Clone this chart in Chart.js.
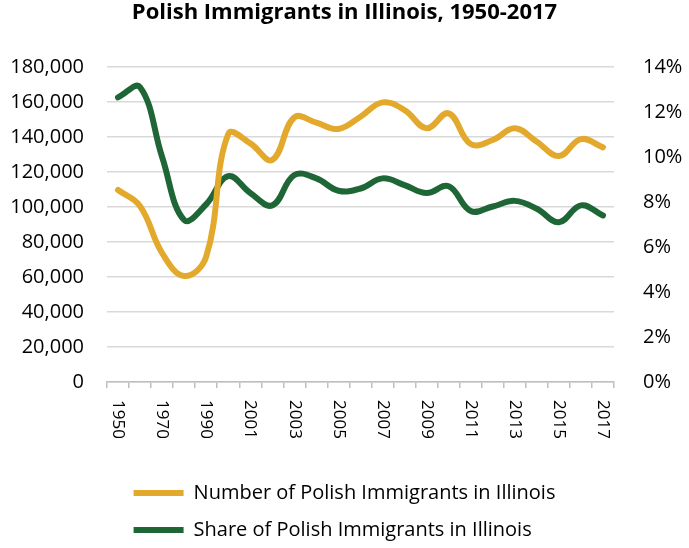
<!DOCTYPE html>
<html>
<head>
<meta charset="utf-8">
<script src="https://cdn.jsdelivr.net/npm/chart.js@4.4.0/dist/chart.umd.min.js"></script>
<style>
  html, body { margin: 0; padding: 0; background: #fff; }
  #wrap { width: 689px; height: 548px; }
</style>
</head>
<body>
<div id="wrap"><canvas id="chart"></canvas></div>
<script>
// categories and series
const years = ["1950", "1960", "1970", "1980", "1990", "2000", "2001", "2002", "2003", "2004", "2005", "2006",
    "2007", "2008", "2009", "2010", "2011", "2012", "2013", "2014", "2015", "2016", "2017"];
const immigrants = [109700, 100500, 73700, 60600, 71600, 141700, 136400, 126900, 151200, 148200, 144600, 151600,
    159800, 155400, 145000, 153500, 136000, 138300, 145000, 137300, 129100, 138800, 134100];
const sharePct = [12.65, 13.1, 10.0, 7.2, 7.9, 9.15, 8.4, 7.85, 9.2, 9.05, 8.5, 8.6,
    9.05, 8.75, 8.4, 8.7, 7.6, 7.8, 8.05, 7.7, 7.1, 7.85, 7.4];
const leftTicks = [0, 20000, 40000, 60000, 80000, 100000, 120000, 140000, 160000, 180000];
const rightTicks = [0, 2, 4, 6, 8, 10, 12, 14];

const FONT = "'Open Sans', sans-serif";
const yellow = "#E3A92C";
const green = "#1F6636";

// x labels in the picture read top to bottom, so draw them rotated clockwise
const xLabels = {
    id: "xLabels",
    afterDraw(chart) {
        const ctx = chart.ctx;
        const xs = chart.scales.x;
        ctx.save();
        ctx.font = "17px " + FONT;
        ctx.fillStyle = "#000";
        ctx.textAlign = "left";
        ctx.textBaseline = "middle";
        years.forEach((y, i) => {
            if (i % 2 !== 0) return;
            ctx.save();
            ctx.translate(xs.getPixelForValue(i), xs.top + 18);
            ctx.rotate(Math.PI / 2);
            ctx.fillText(y, 0, 0);
            ctx.restore();
        });
        ctx.restore();
    }
};

// both legend rows start at the same x, like the original
const legendRows = {
    id: "legendRows",
    afterLayout(chart) {
        const lg = chart.legend;
        if (lg && lg.lineWidths && lg.lineWidths.length > 1) {
            const w = Math.max(...lg.lineWidths);
            lg.lineWidths = lg.lineWidths.map(() => w);
        }
    }
};

new Chart(document.getElementById("chart"), {
    type: "line",
    data: {
        labels: years,
        datasets: [
            { label: "Number of Polish Immigrants in Illinois", data: immigrants, yAxisID: "y",
              borderColor: yellow, backgroundColor: yellow, borderWidth: 6, tension: 0.4,
              pointRadius: 0, borderCapStyle: "round", borderJoinStyle: "round" },
            { label: "Share of Polish Immigrants in Illinois", data: sharePct, yAxisID: "y1",
              borderColor: green, backgroundColor: green, borderWidth: 6, tension: 0.4,
              pointRadius: 0, borderCapStyle: "round", borderJoinStyle: "round" }
        ]
    },
    options: {
        responsive: true,
        maintainAspectRatio: false,
        animation: false,
        layout: { padding: 0 },
        plugins: {
            title: {
                display: true,
                text: "Polish Immigrants in Illinois, 1950-2017",
                color: "#000",
                font: { family: FONT, size: 22, weight: "bold" },
                padding: { top: 0, bottom: 40.6 }
            },
            legend: {
                position: "bottom",
                maxHeight: 82,
                labels: {
                    usePointStyle: true,
                    pointStyle: "line",
                    pointStyleWidth: 50,
                    padding: 17,
                    color: "#000",
                    font: { family: FONT, size: 20 }
                }
            },
            tooltip: { enabled: false }
        },
        scales: {
            x: {
                offset: true,
                grid: { offset: true, drawOnChartArea: false, drawTicks: true, tickLength: 6, color: "#bfbfbf", lineWidth: 1.5 },
                border: { display: true, color: "#bfbfbf", width: 1.5 },
                ticks: { display: false },
                afterFit: (s) => { s.height = 84; }
            },
            y: {
                position: "left",
                min: 0,
                max: 180000,
                afterBuildTicks: (s) => { s.ticks = leftTicks.map(v => ({ value: v })); },
                grid: { color: "#d9d9d9", lineWidth: 1.5, drawTicks: false },
                border: { display: false },
                ticks: { padding: 23, color: "#000", font: { family: FONT, size: 20 } },
                afterFit: (s) => { s.width = 107; }
            },
            y1: {
                position: "right",
                min: 0,
                max: 14,
                afterBuildTicks: (s) => { s.ticks = rightTicks.map(v => ({ value: v })); },
                grid: { drawOnChartArea: false, drawTicks: false },
                border: { display: false },
                ticks: { padding: 29, color: "#000", font: { family: FONT, size: 20 }, callback: (v) => v + "%" },
                afterFit: (s) => { s.width = 75; }
            }
        }
    },
    plugins: [xLabels, legendRows]
});
</script>
</body>
</html>
